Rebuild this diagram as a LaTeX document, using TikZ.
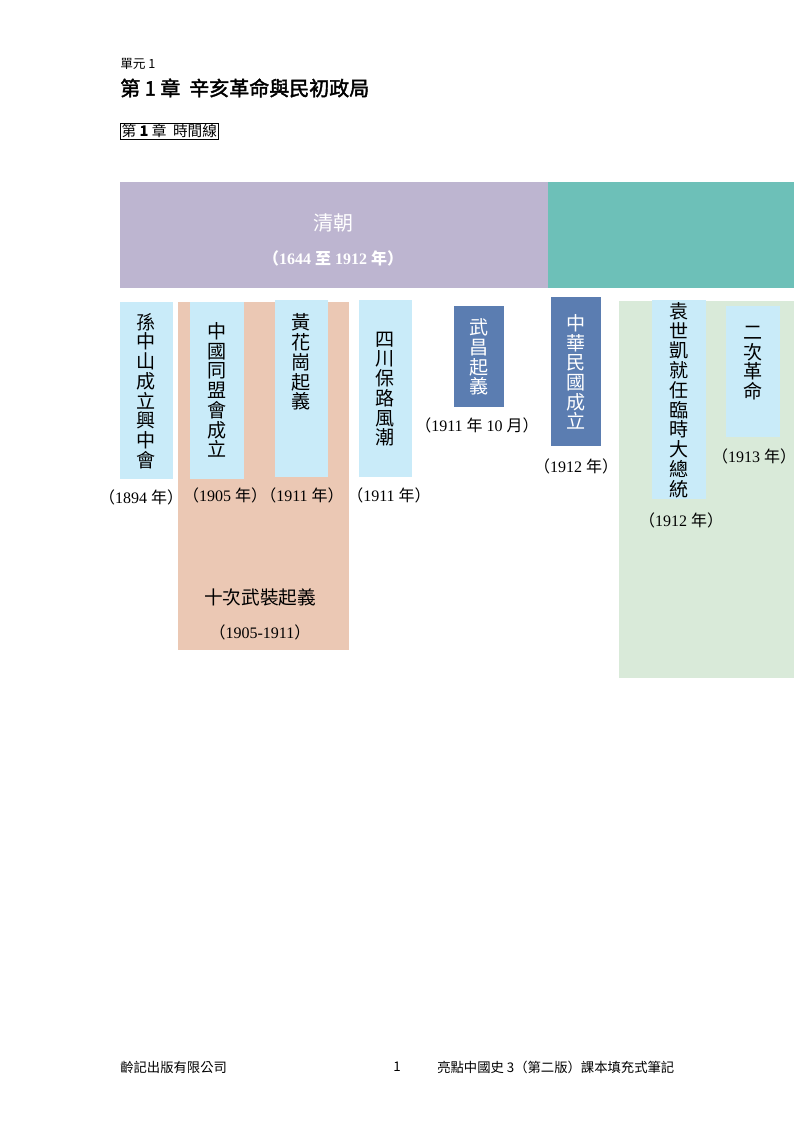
\documentclass[tikz,border=0pt]{standalone}
\usepackage{fontspec}
\setmainfont{Liberation Serif}
\newfontfamily\cjk{Noto Sans CJK TC}
\newfontfamily\cjkb{Noto Sans CJK TC}[FakeBold=2]
\definecolor{qing}{HTML}{BDB5D0}
\definecolor{teal}{HTML}{6DC0B8}
\definecolor{peach}{HTML}{EBC8B4}
\definecolor{lblue}{HTML}{C9EBF9}
\definecolor{dblue}{HTML}{5B7DB1}
\definecolor{lgreen}{HTML}{D9EAD9}
\tikzset{
 vt/.style={align=center,font=\fontsize{14.3}{14.8}\selectfont\cjk,inner sep=0pt},
 yr/.style={font=\fontsize{12}{14}\selectfont,inner sep=0pt},
}
\newcommand{\nian}{{\cjk 年}}
\newcommand{\lp}{{\cjk （}}
\newcommand{\rp}{{\cjk ）}}
\begin{document}
\begin{tikzpicture}[x=0.75pt,y=-0.75pt]
\useasboundingbox[fill=white] (0,0) rectangle (794,1123);
% header
\node[anchor=west,font=\fontsize{9.5}{11}\selectfont\cjk,inner sep=0pt] (unit) at (120,64) {單元 1};
\node[anchor=west,font=\fontsize{15}{17}\selectfont\cjkb,inner sep=0pt] (title) at (120,88) {第 1 章\ \ 辛亥革命與民初政局};
\node[anchor=west,draw,font=\fontsize{11}{13}\selectfont\cjk,inner sep=1pt] (tl) at (120,131) {第 {\bfseries 1} 章\ \ 時間線};
% bands
\fill[qing] (120,182) rectangle (548,288);
\fill[teal] (548,182) rectangle (794,288);
\node[text=white,font=\fontsize{15}{17}\selectfont\cjk] (qc) at (333,223) {清朝};
\node[text=white,font=\fontsize{12}{14}\selectfont\bfseries] (qy) at (333,258) {\lp 1644 {\cjk 至} 1912 \nian\rp};
% back panels
\fill[peach] (178,302) rectangle (349,650);
\fill[lgreen] (619,301) rectangle (794,678);
% boxes
\fill[lblue] (120,302) rectangle (173,479);
\node[vt] (b1) at (146.5,391) {孫\\中\\山\\成\\立\\興\\中\\會};
\fill[lblue] (190,302) rectangle (244,479);
\node[vt] (b2) at (217,390) {中\\國\\同\\盟\\會\\成\\立};
\fill[lblue] (275,300) rectangle (328,477);
\node[vt] (b3) at (301.5,362) {黃\\花\\崗\\起\\義};
\fill[lblue] (359,300) rectangle (412,477);
\node[vt] (b4) at (385.5,389) {四\\川\\保\\路\\風\\潮};
\fill[dblue] (454,306) rectangle (504,407);
\node[vt,text=white] (b5) at (479,357) {武\\昌\\起\\義};
\fill[dblue] (551,297) rectangle (601,446);
\node[vt,text=white] (b6) at (576,372) {中\\華\\民\\國\\成\\立};
\fill[lblue] (652,300) rectangle (706,499);
\node[vt] (b7) at (679,400) {袁\\世\\凱\\就\\任\\臨\\時\\大\\總\\統};
\fill[lblue] (726,306) rectangle (780,437);
\node[vt] (b8) at (753,363) {二\\次\\革\\命};
% years
\node[yr] (y1) at (141,497) {\lp 1894 \nian\rp};
\node[yr] (y2) at (225,495) {\lp 1905 \nian\rp};
\node[yr] (y3) at (302,495) {\lp 1911 \nian\rp};
\node[yr] (y4) at (389,495) {\lp 1911 \nian\rp};
\node[yr] (y5) at (477,425) {\lp 1911 \nian\ 10 {\cjk 月}\rp};
\node[yr] (y6) at (576,466) {\lp 1912 \nian\rp};
\node[yr] (y7) at (681,520) {\lp 1912 \nian\rp};
\node[yr] (y8) at (754,456) {\lp 1913 \nian\rp};
\node[font=\fontsize{14}{15}\selectfont\cjk,inner sep=0pt] (ten) at (260,597) {十次武裝起義};
\node[yr] (teny) at (260,632) {\lp 1905-1911\rp};
% footer
\node[anchor=west,font=\fontsize{10}{12}\selectfont\cjk,inner sep=0pt] (f1) at (120,1067) {齡記出版有限公司};
\node[font=\fontsize{10}{12}\selectfont\cjk,inner sep=0pt] (f2) at (397,1067) {1};
\node[anchor=west,font=\fontsize{10}{12}\selectfont\cjk,inner sep=0pt] (f3) at (437,1067) {亮點中國史 3（第二版）課本填充式筆記};
\end{tikzpicture}
\end{document}
